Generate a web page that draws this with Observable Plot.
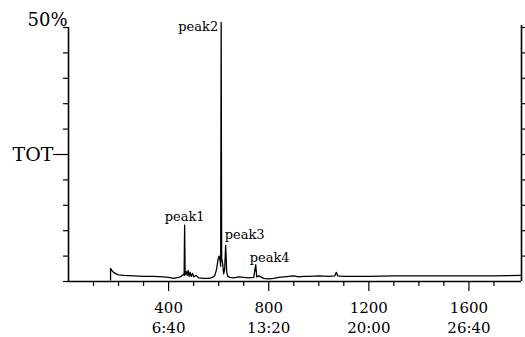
<!DOCTYPE html>
<html>
<head>
<meta charset="utf-8">
<script src="https://cdn.jsdelivr.net/npm/d3@7"></script>
<script src="https://cdn.jsdelivr.net/npm/@observablehq/plot@0.6"></script>
<style>
  html, body { margin: 0; padding: 0; background: #fff; }
</style>
</head>
<body>
<div id="chart"></div>
<script>
// Retention time (s) and relative intensity (% of TOT)
const traceTime = [168, 168, 172, 180, 190, 200, 220, 260, 300, 340, 380, 400, 420, 440, 450, 458, 462, 464, 466, 470, 474, 478, 482, 486, 490, 496, 500, 510, 520, 540, 560, 575, 585, 592, 598, 602, 606, 608, 610, 612, 616, 620, 624, 628, 632, 636, 645, 660, 680, 700, 720, 740, 748, 752, 760, 780, 800, 820, 840, 860, 880, 900, 920, 940, 960, 1000, 1040, 1064, 1070, 1076, 1100, 1200, 1300, 1400, 1500, 1600, 1700, 1810];
const traceValue = [0.3, 2.6, 2.2, 1.8, 1.5, 1.3, 1.2, 1.1, 1.0, 1.0, 0.9, 0.8, 0.6, 0.8, 1.0, 1.4, 1.2, 11.1, 1.3, 2.0, 1.2, 2.2, 1.0, 1.8, 1.0, 1.6, 0.9, 1.2, 0.7, 0.6, 0.6, 0.8, 1.2, 2.5, 4.5, 5.0, 4.0, 3.0, 51, 4.5, 3.5, 1.5, 2.5, 7.1, 2.0, 1.0, 0.8, 0.7, 0.9, 0.8, 0.7, 0.8, 3.3, 0.9, 1.1, 0.6, 0.5, 0.6, 0.8, 0.9, 1.0, 1.1, 0.9, 1.0, 1.0, 1.1, 1.0, 1.1, 1.8, 1.1, 1.0, 1.0, 1.1, 1.1, 1.1, 1.1, 1.1, 1.2];

const peakNames = ["peak1", "peak2", "peak3", "peak4"];
const peakTime = [464, 610, 628, 748];
const peakValue = [11.1, 51, 7.1, 3.3];

const majorTicks = [400, 800, 1200, 1600];
const timeLabels = ["6:40", "13:20", "20:00", "26:40"];
const minorTicks = [100, 200, 300, 500, 600, 700, 900, 1000, 1100, 1300, 1400, 1500, 1700];
const yTicks = [0, 5, 10, 15, 20, 30, 35, 40, 45, 50];
const totTick = [25];
const topLabel = "50%";
const yMax = 50;
const xMax = 1810;

const trace = traceTime.map((t, i) => ({t, v: traceValue[i]}));
const peaks = peakNames.map((name, i) => ({name, t: peakTime[i], v: peakValue[i]}));
const peakStyle = [
  {textAnchor: "middle", dx: 0, dy: -8.5},
  {textAnchor: "end", dx: -3, dy: 4.8},
  {textAnchor: "start", dx: -1, dy: -10.2},
  {textAnchor: "start", dx: -6, dy: -7.4}
];

const font = "DejaVu Serif";

const chart = Plot.plot({
  width: 525,
  height: 337,
  marginLeft: 68,
  marginRight: 4,
  marginTop: 27,
  marginBottom: 56,
  x: {domain: [0, xMax]},
  y: {domain: [0, yMax]},
  style: {fontFamily: font, background: "#fff", color: "#000"},
  marks: [
    // minor x ticks
    Plot.axisX({ticks: minorTicks, tickSize: 5, tickFormat: () => "", label: null, strokeWidth: 1.2}),
    // major x ticks with two-line labels
    Plot.axisX({
      ticks: majorTicks, tickSize: 10, tickPadding: 8, label: null, strokeWidth: 1.2,
      tickFormat: (d) => `${d}\n${timeLabels[majorTicks.indexOf(d)]}`,
      fontSize: 15, lineHeight: 1.3, fontFamily: font
    }),
    // left ticks
    Plot.axisY({ticks: yTicks, tickSize: 5, tickFormat: () => "", label: null, strokeWidth: 1.2}),
    Plot.axisY({ticks: totTick, tickSize: 15, tickPadding: 0, tickFormat: () => "TOT", label: null, fontSize: 19, fontFamily: font, strokeWidth: 1.2}),
    // right ticks
    Plot.axisY({anchor: "right", ticks: d3.range(5, 55, 5), tickSize: 3, tickFormat: () => "", label: null, strokeWidth: 1.2}),
    // axis lines
    Plot.ruleY([0], {strokeWidth: 1.6}),
    Plot.ruleX([0], {y1: 0, y2: yMax, strokeWidth: 1.6}),
    Plot.ruleX([xMax], {y1: 0, y2: yMax + 0.4, strokeWidth: 1.6}),
    Plot.text([topLabel], {x: 0, y: yMax, text: d => d, textAnchor: "end", lineAnchor: "bottom", dx: -1, dy: -2, fontSize: 18, fontFamily: font}),
    // trace
    Plot.line(trace, {x: "t", y: "v", stroke: "#000", strokeWidth: 1.3, curve: "linear"}),
    // peak labels
    ...peaks.map((p, i) => Plot.text([p], {x: "t", y: "v", text: "name", fontSize: 13, fontFamily: font, ...peakStyle[i]}))
  ]
});
document.getElementById("chart").appendChild(chart);
</script>
</body>
</html>
